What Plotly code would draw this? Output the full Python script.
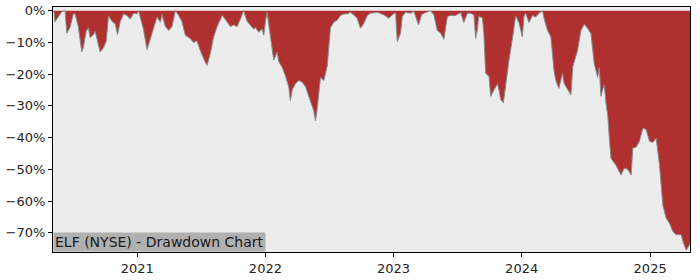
import datetime as dt
import plotly.graph_objects as go

# Time as decimal years, drawdown in percent
years = [
    2020.345, 2020.352, 2020.359, 2020.385, 2020.412, 2020.438, 2020.451, 2020.477, 2020.502, 2020.516,
    2020.541, 2020.568, 2020.580, 2020.602, 2020.620, 2020.633, 2020.659, 2020.672, 2020.685, 2020.711,
    2020.737, 2020.758, 2020.776, 2020.802, 2020.828, 2020.846, 2020.867, 2020.893, 2020.920, 2020.945,
    2020.971, 2020.998, 2021.010, 2021.037, 2021.049, 2021.076, 2021.102, 2021.127, 2021.154, 2021.180,
    2021.193, 2021.219, 2021.245, 2021.271, 2021.297, 2021.323, 2021.349, 2021.375, 2021.414, 2021.440,
    2021.466, 2021.492, 2021.531, 2021.545, 2021.570, 2021.596, 2021.623, 2021.648, 2021.662, 2021.674,
    2021.701, 2021.727, 2021.752, 2021.779, 2021.805, 2021.830, 2021.857, 2021.883, 2021.909, 2021.922,
    2021.948, 2021.974, 2021.987, 2022.000, 2022.013, 2022.039, 2022.065, 2022.091, 2022.104, 2022.130,
    2022.156, 2022.182, 2022.195, 2022.209, 2022.234, 2022.260, 2022.287, 2022.313, 2022.338, 2022.365,
    2022.377, 2022.391, 2022.404, 2022.430, 2022.456, 2022.482, 2022.508, 2022.534, 2022.560, 2022.586,
    2022.612, 2022.638, 2022.664, 2022.688, 2022.716, 2022.742, 2022.768, 2022.795, 2022.820, 2022.873,
    2022.898, 2022.924, 2022.963, 2022.990, 2023.016, 2023.029, 2023.055, 2023.068, 2023.094, 2023.133,
    2023.159, 2023.195, 2023.219, 2023.237, 2023.289, 2023.315, 2023.341, 2023.367, 2023.393, 2023.420,
    2023.445, 2023.484, 2023.523, 2023.549, 2023.576, 2023.602, 2023.627, 2023.641, 2023.654, 2023.666,
    2023.693, 2023.705, 2023.719, 2023.745, 2023.758, 2023.784, 2023.810, 2023.823, 2023.836, 2023.857,
    2023.875, 2023.901, 2023.927, 2023.953, 2023.979, 2024.005, 2024.018, 2024.031, 2024.057, 2024.084,
    2024.109, 2024.135, 2024.162, 2024.174, 2024.201, 2024.227, 2024.252, 2024.266, 2024.289, 2024.318,
    2024.331, 2024.357, 2024.383, 2024.398, 2024.435, 2024.461, 2024.487, 2024.513, 2024.539, 2024.565,
    2024.591, 2024.604, 2024.617, 2024.633, 2024.643, 2024.656, 2024.670, 2024.682, 2024.695, 2024.734,
    2024.773, 2024.799, 2024.826, 2024.852, 2024.865, 2024.891, 2024.916, 2024.943, 2024.969, 2024.995,
    2025.021, 2025.047, 2025.073, 2025.099, 2025.125, 2025.151, 2025.177, 2025.203, 2025.242, 2025.256,
    2025.281, 2025.297, 2025.311,
]
drawdown_pct = [
    0.0, -0.3, -3.5, -2.0, -0.3, 0.0, -7.1, -5.2, -1.0, -1.0,
    -5.0, -12.9, -11.6, -6.5, -5.4, -8.5, -7.5, -6.5, -9.0, -13.0,
    -11.7, -9.6, -1.6, -3.3, -4.1, -7.5, -3.5, -1.0, -1.5, -2.6,
    -0.8, -1.0, 0.0, -4.6, -6.0, -12.3, -8.5, -5.5, -2.0, -3.6,
    -1.2, -5.0, -6.2, -5.0, 0.0, -1.5, -3.5, -7.7, -8.8, -10.0,
    -9.5, -12.6, -16.3, -17.2, -13.5, -8.2, -5.0, -3.0, -1.5, -2.0,
    -3.5, -5.0, -4.5, -5.0, -2.6, 0.0, -3.3, -4.5, -5.8, -5.3,
    -6.8, -5.8, -7.7, -3.5, -0.5, -8.1, -15.6, -13.0, -16.0, -17.8,
    -20.5, -24.0, -28.3, -25.0, -23.0, -22.0, -22.5, -24.0, -27.0, -30.0,
    -31.5, -34.7, -31.0, -21.0, -22.0, -17.5, -5.3, -3.6, -3.0, -1.5,
    -1.0, -1.0, -0.5, -1.3, -2.4, -5.5, -4.0, -1.5, -0.8, -0.5,
    -0.8, -1.3, -2.4, -1.3, -0.6, -9.8, -7.0, -1.8, -0.5, -0.8,
    -0.2, -4.5, -1.2, -0.8, 0.0, -1.3, -6.2, -7.0, -9.0, -1.8,
    -1.5, -1.5, -0.6, -3.7, -0.8, -0.8, -1.3, -8.7, -6.0, -1.8,
    -2.2, -7.2, -19.7, -20.7, -27.0, -25.0, -23.0, -25.0, -28.0, -29.0,
    -23.0, -15.5, -9.0, -1.6, -3.8, -8.2, -1.8, -0.8, -3.7, -1.5,
    -2.0, -0.8, 0.0, -2.4, -6.2, -8.2, -19.0, -22.0, -24.5, -19.7,
    -23.0, -25.0, -26.5, -17.6, -12.5, -6.2, -4.3, -5.5, -7.2, -16.7,
    -21.0, -18.0, -27.0, -24.5, -23.4, -29.0, -33.0, -40.0, -46.5, -48.7,
    -51.8, -49.6, -50.0, -51.8, -43.3, -43.0, -41.2, -37.0, -37.5, -41.2,
    -41.5, -40.2, -48.7, -61.3, -65.4, -67.0, -69.6, -70.6, -70.6, -72.7,
    -75.5, -74.5, -73.5,
]
tick_years = [2021, 2022, 2023, 2024, 2025]
y_ticks = [0, -10, -20, -30, -40, -50, -60, -70]
title_text = "ELF (NYSE) - Drawdown Chart"


def to_date(y):
    yr = int(y)
    start = dt.datetime(yr, 1, 1)
    end = dt.datetime(yr + 1, 1, 1)
    return start + (end - start) * (y - yr)


dates = [to_date(y) for y in years]
values = [v / 100 for v in drawdown_pct]

fig = go.Figure()
fig.add_trace(go.Scatter(
    x=dates, y=values, mode="lines",
    line=dict(color="#8a8a8a", width=1),
    fill="tozeroy", fillcolor="#b03030",
    hoverinfo="skip", showlegend=False,
))

font = dict(family="DejaVu Sans", size=13, color="#222222")
fig.update_layout(
    width=700, height=280,
    margin=dict(l=53, r=10, t=7, b=28, autoexpand=False),
    paper_bgcolor="white", plot_bgcolor="#ececec",
    font=font,
    xaxis=dict(
        range=[to_date(2020.344), to_date(2025.311)],
        tickvals=[dt.datetime(y, 1, 1) for y in tick_years],
        ticktext=[str(y) for y in tick_years],
        showgrid=False, zeroline=False, automargin=False,
        ticks="outside", ticklen=4, tickcolor="black",
        showline=True, linecolor="black", linewidth=1, mirror=True,
    ),
    yaxis=dict(
        range=[-0.7607, 0.0117],
        tickvals=[v / 100 for v in y_ticks],
        ticktext=[("\u2212" if v < 0 else "") + f"{abs(v)}%" for v in y_ticks],
        showgrid=False, zeroline=False, automargin=False,
        ticks="outside", ticklen=4, tickcolor="black",
        showline=True, linecolor="black", linewidth=1, mirror=True,
    ),
    annotations=[dict(
        text=title_text, xref="paper", yref="paper", x=0, y=0,
        xanchor="left", yanchor="bottom", showarrow=False,
        bgcolor="#b0b0b0", borderpad=1,
        font=dict(family="DejaVu Sans", size=14, color="#1a1a1a"),
    )],
)

fig.write_html("out.html")
